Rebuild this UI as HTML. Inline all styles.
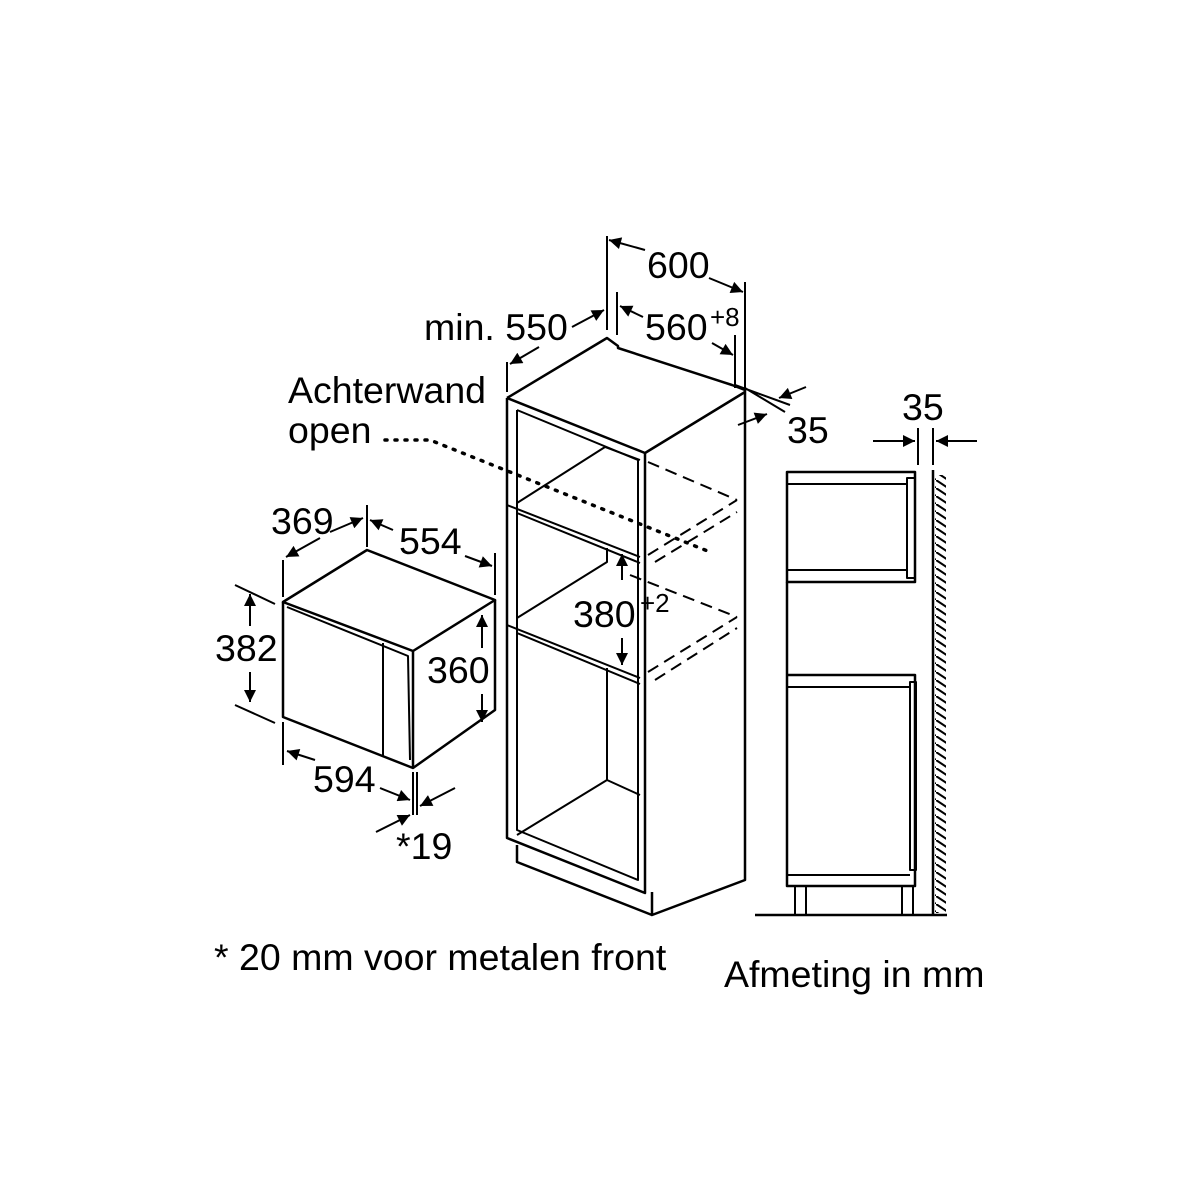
<!DOCTYPE html>
<html><head><meta charset="utf-8"><style>
html,body{margin:0;padding:0;background:#fff}
svg{display:block}
text{font-family:"Liberation Sans",Arial,sans-serif;fill:#000;font-size:37.5px}
</style></head><body>
<svg width="1200" height="1200" viewBox="0 0 1200 1200" xmlns="http://www.w3.org/2000/svg">
<defs>
<marker id="b" viewBox="0 0 10 10" refX="10" refY="5" markerWidth="16" markerHeight="12" orient="auto-start-reverse" markerUnits="userSpaceOnUse"><path d="M0,0 L10,5 L0,10z" fill="#000"/></marker>
<pattern id="h" width="12" height="8" patternUnits="userSpaceOnUse"><path d="M0,0 L12,8" stroke="#000" stroke-width="2"/></pattern>
</defs>
<g fill="none" stroke="#000" stroke-width="2.5" stroke-linejoin="round">
<path d="M507,398 L607,338 L618,346 L618,348 L732,385 L745,390 L745,880 L652,915 L652,892"/>
<path d="M507,398 L645,453 L745,392"/>
<path d="M507,398 L507,838 L645,893 L645,453"/>
<path d="M517,410 L517,830 L638,880 L638,460 L517,410" stroke-width="2"/>
<path d="M517,845 L517,862 L652,915"/>
<path d="M507,505 L640,557 M517,513 L640,563" stroke-width="2"/>
<path d="M507,625 L640,678 M517,633 L640,684" stroke-width="2"/>
<path d="M605,447 L517,503 M605,447 L640,460" stroke-width="2"/>
<path d="M607,548 L607,562 L517,618" stroke-width="2"/>
<path d="M607,668 L607,780 L517,835 M607,780 L640,795" stroke-width="2"/>
<g stroke-dasharray="12,7" stroke-width="2">
<path d="M648,462 L737,500"/><path d="M648,555 L737,500"/><path d="M655,562 L737,512"/>
<path d="M630,575 L737,617"/><path d="M648,672 L737,617"/><path d="M655,680 L737,628"/>
</g>
<path d="M385,440 L430,440 L710,552" stroke-dasharray="2,8" stroke-width="3.5" stroke-linecap="round"/>
<path d="M607,236 L607,330 M745,282 L745,395 M617,292 L617,335 M735,335 L735,388" stroke-width="2"/>
<path d="M645,250 L609,240" marker-end="url(#b)" stroke-width="2"/>
<path d="M709,278 L743,292" marker-end="url(#b)" stroke-width="2"/>
<path d="M643,317 L620,306" marker-end="url(#b)" stroke-width="2"/>
<path d="M712,343 L733,355" marker-end="url(#b)" stroke-width="2"/>
<path d="M572,327 L604,310" marker-end="url(#b)" stroke-width="2"/>
<path d="M539,347 L510,364" marker-end="url(#b)" stroke-width="2"/>
<path d="M507,362 L507,392" stroke-width="2"/>
<path d="M735,385 L790,405 M745,388 L785,412" stroke-width="2"/>
<path d="M806,387 L779,398" marker-end="url(#b)" stroke-width="2"/>
<path d="M738,425 L767,414" marker-end="url(#b)" stroke-width="2"/>
<path d="M622,580 L622,554" marker-end="url(#b)" stroke-width="2"/>
<path d="M622,638 L622,665" marker-end="url(#b)" stroke-width="2"/>
<path d="M283,602 L367,550 L495,600 L413,651 L283,602 Z"/>
<path d="M283,602 L283,717 L413,768 L495,710 L495,600"/>
<path d="M413,651 L413,768"/>
<path d="M287,607 L408,656 L410,760" stroke-width="2"/>
<path d="M383,643 L383,757" stroke-width="2"/>
<path d="M283,560 L283,597 M367,505 L367,547 M495,553 L495,595 M283,722 L283,765 M413,772 L413,815 M417,772 L417,815" stroke-width="2"/>
<path d="M235,585 L275,604 M235,705 L275,723" stroke-width="2"/>
<path d="M330,532 L363,518" marker-end="url(#b)" stroke-width="2"/>
<path d="M320,538 L286,557" marker-end="url(#b)" stroke-width="2"/>
<path d="M393,530 L370,520" marker-end="url(#b)" stroke-width="2"/>
<path d="M465,556 L492,566" marker-end="url(#b)" stroke-width="2"/>
<path d="M250,626 L250,594" marker-end="url(#b)" stroke-width="2"/>
<path d="M250,672 L250,702" marker-end="url(#b)" stroke-width="2"/>
<path d="M482,648 L482,615" marker-end="url(#b)" stroke-width="2"/>
<path d="M482,694 L482,722" marker-end="url(#b)" stroke-width="2"/>
<path d="M315,760 L287,751" marker-end="url(#b)" stroke-width="2"/>
<path d="M380,788 L410,800" marker-end="url(#b)" stroke-width="2"/>
<path d="M455,788 L420,806" marker-end="url(#b)" stroke-width="2"/>
<path d="M376,832 L410,815" marker-end="url(#b)" stroke-width="2"/>
<rect x="787" y="472" width="128" height="110"/>
<path d="M787,484 L907,484 M787,570 L907,570" stroke-width="2"/>
<rect x="907" y="478" width="8" height="100" stroke-width="2"/>
<path d="M787,582 L787,886 L915,886 L915,675 L787,675" />
<path d="M787,687 L910,687 M787,875 L910,875" stroke-width="2"/>
<rect x="910" y="682" width="6" height="188" stroke-width="2"/>
<path d="M795,886 L795,915 M806,886 L806,915 M902,886 L902,915 M913,886 L913,915" stroke-width="2"/>
<path d="M755,915 L947,915"/>
<path d="M933,470 L933,915"/>
<path d="M918,428 L918,465 M933,428 L933,465" stroke-width="2"/>
<path d="M873,441 L915,441" marker-end="url(#b)" stroke-width="2"/>
<path d="M977,441 L936,441" marker-end="url(#b)" stroke-width="2"/>
</g>
<rect x="935" y="475" width="11" height="438" fill="url(#h)"/>
<text x="647" y="278">600</text>
<text x="424" y="340">min. 550</text>
<text x="645" y="340">560</text><text x="710" y="326" style="font-size:26px">+8</text>
<text x="787" y="443">35</text>
<text x="902" y="420">35</text>
<text x="288" y="403">Achterwand</text>
<text x="288" y="443">open</text>
<text x="271" y="534">369</text>
<text x="399" y="554">554</text>
<text x="215" y="661">382</text>
<text x="427" y="683">360</text>
<text x="313" y="792">594</text>
<text x="396" y="859">*19</text>
<text x="573" y="627">380</text><text x="640" y="612" style="font-size:26px">+2</text>
<text x="214" y="970">* 20 mm voor metalen front</text>
<text x="724" y="987">Afmeting in mm</text>
</svg>
</body></html>
